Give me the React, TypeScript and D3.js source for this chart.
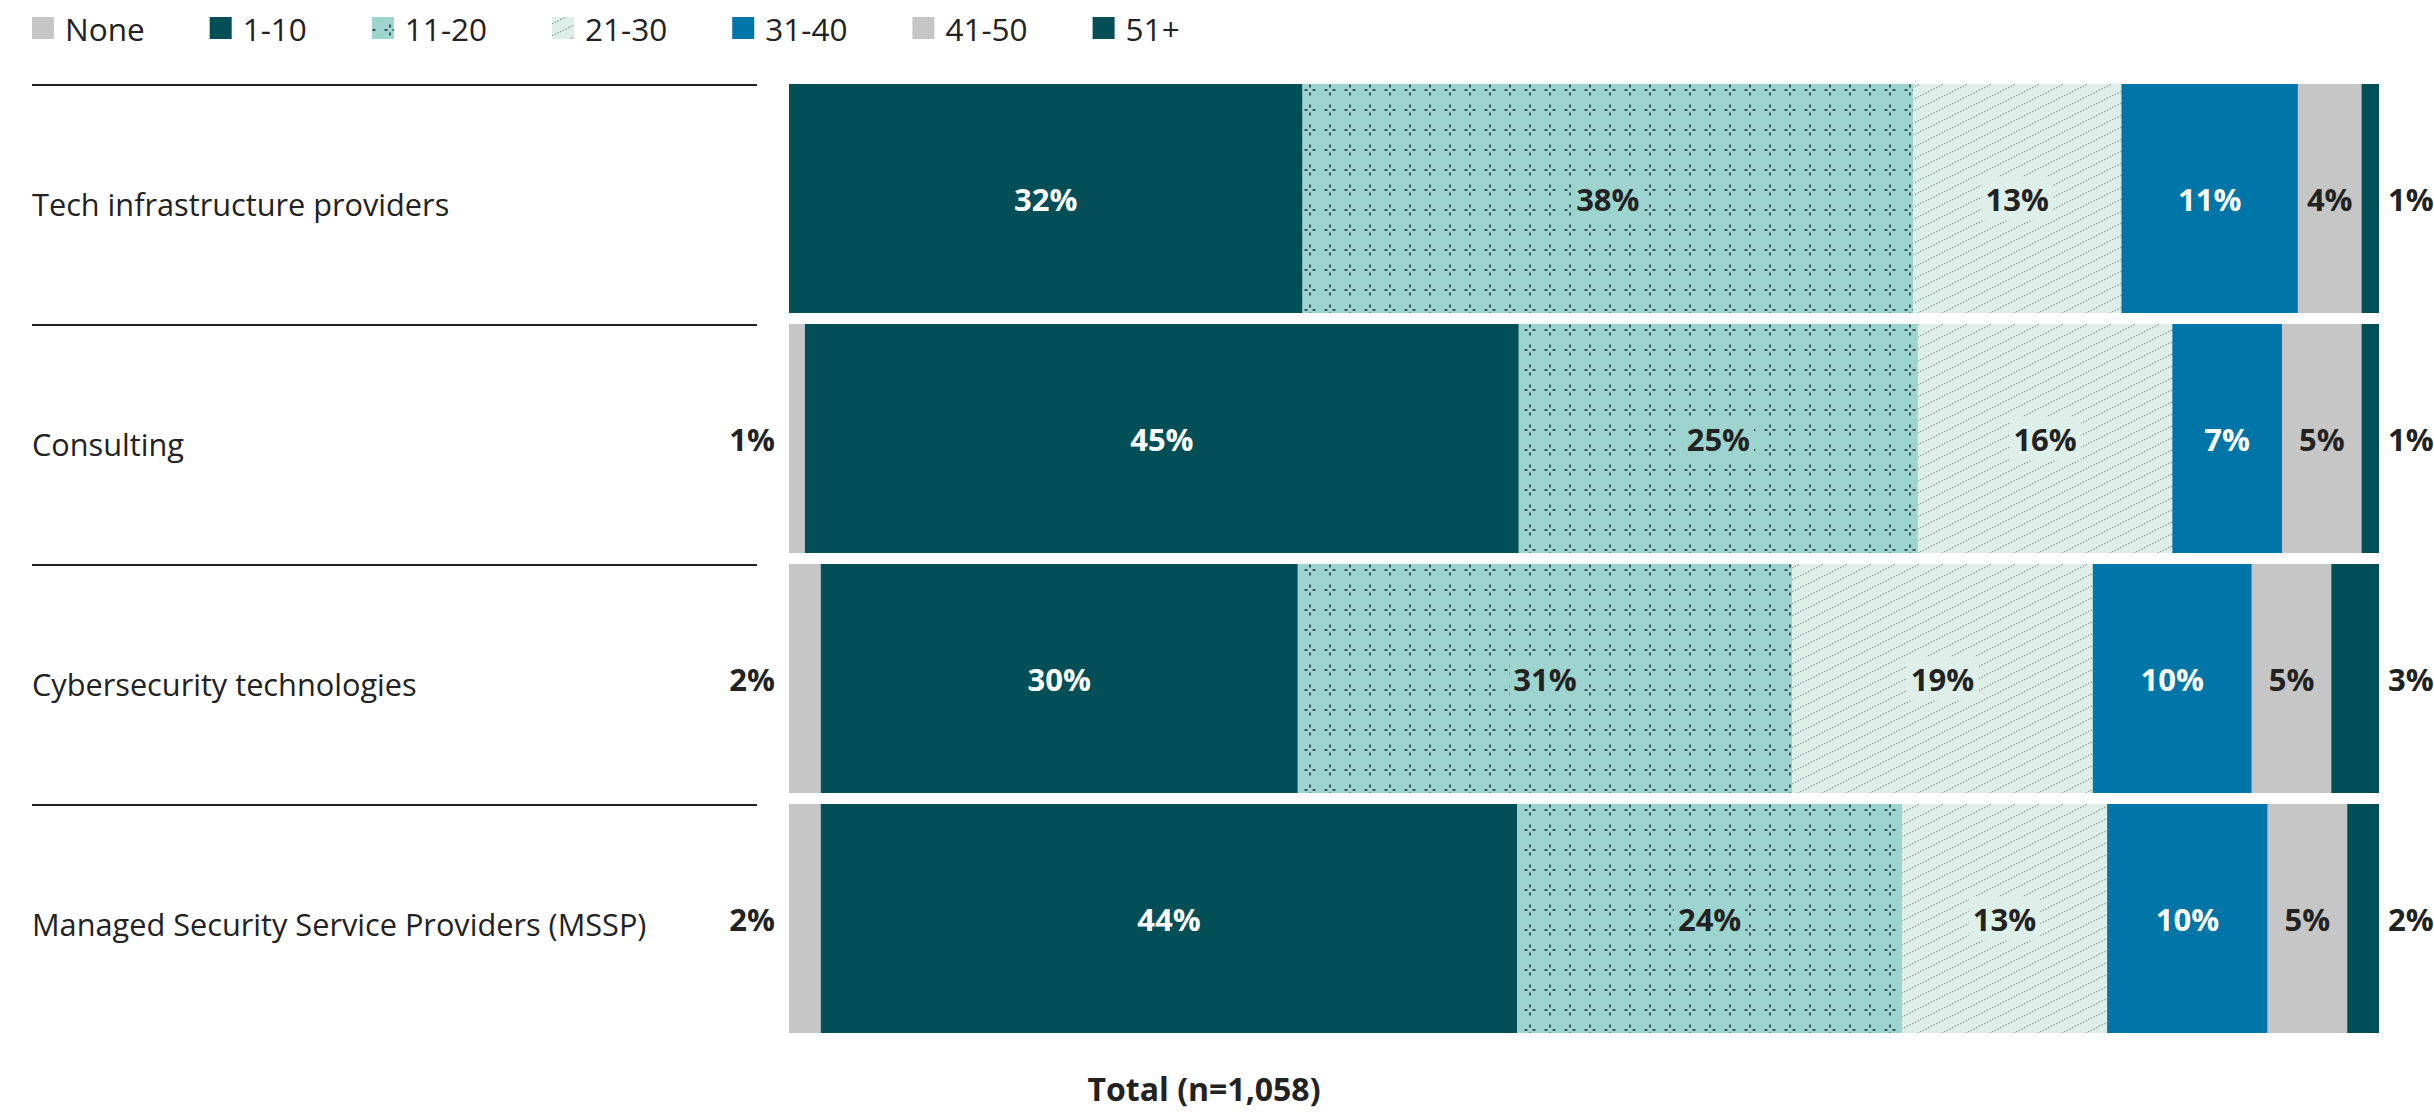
import React, { useEffect, useRef } from 'react';
import * as d3 from 'd3';

const categories = [
  'Tech infrastructure providers',
  'Consulting',
  'Cybersecurity technologies',
  'Managed Security Service Providers (MSSP)',
];
const seriesNames = ['None', '1-10', '11-20', '21-30', '31-40', '41-50', '51+'];
const noneValues = [0, 1.0, 2.0, 2.0];
const v1to10 = [32.3, 44.9, 30.0, 43.8];
const v11to20 = [38.4, 25.1, 31.1, 24.2];
const v21to30 = [13.1, 16.0, 18.9, 12.9];
const v31to40 = [11.1, 6.9, 10.0, 10.1];
const v41to50 = [4.0, 5.0, 5.0, 5.0];
const v51plus = [1.1, 1.1, 3.0, 2.0];
const totalLabel = 'Total (n=1,058)';

const W = 2434;
const H = 1112;
const FONT = "'Open Sans', sans-serif";
const TEXT = '#222222';

const fills: Record<string, string> = {
  None: '#c6c6c6',
  '1-10': '#024f57',
  '11-20': 'url(#patDots)',
  '21-30': 'url(#patLines)',
  '31-40': '#0076a8',
  '41-50': '#c6c6c6',
  '51+': '#024f57',
};
const baseColors: Record<string, string> = {
  None: '#c6c6c6',
  '1-10': '#024f57',
  '11-20': '#9dd4cf',
  '21-30': '#deefea',
  '31-40': '#0076a8',
  '41-50': '#c6c6c6',
  '51+': '#024f57',
};
const labelColors: Record<string, string> = {
  None: TEXT,
  '1-10': '#ffffff',
  '11-20': TEXT,
  '21-30': TEXT,
  '31-40': '#ffffff',
  '41-50': TEXT,
  '51+': TEXT,
};

export default function App() {
  const ref = useRef<SVGSVGElement | null>(null);

  useEffect(() => {
    const svg = d3.select(ref.current);
    svg.selectAll('*').remove();

    const columns = [noneValues, v1to10, v11to20, v21to30, v31to40, v41to50, v51plus];
    const table = categories.map((c, i) => {
      const row: any = { category: c };
      seriesNames.forEach((s, j) => (row[s] = columns[j][i]));
      return row;
    });
    const stacked = d3.stack().keys(seriesNames)(table as any);

    const x = d3.scaleLinear().domain([0, 100]).range([789, 2379]);
    const y = d3
      .scaleBand()
      .domain(categories)
      .range([84, 1033])
      .paddingInner(11 / 240)
      .paddingOuter(0);

    // patterns
    const defs = svg.append('defs');
    const pd = defs
      .append('pattern')
      .attr('id', 'patDots')
      .attr('patternUnits', 'userSpaceOnUse')
      .attr('width', 20)
      .attr('height', 20);
    pd.append('rect').attr('width', 20).attr('height', 20).attr('fill', '#9dd4cf');
    const crossSegs = [
      [4.5, 10, 7.5, 10],
      [12.5, 10, 15.5, 10],
      [10, 4.5, 10, 7.5],
      [10, 12.5, 10, 15.5],
    ];
    crossSegs.forEach(([a, b, c, d]) =>
      pd
        .append('line')
        .attr('x1', a)
        .attr('y1', b)
        .attr('x2', c)
        .attr('y2', d)
        .attr('stroke', '#16302f')
        .attr('stroke-width', 1.5)
    );
    const pl = defs
      .append('pattern')
      .attr('id', 'patLines')
      .attr('patternUnits', 'userSpaceOnUse')
      .attr('width', 24)
      .attr('height', 12);
    pl.append('rect').attr('width', 24).attr('height', 12).attr('fill', '#deefea');
    pl.append('line')
      .attr('x1', 0)
      .attr('y1', 12)
      .attr('x2', 24)
      .attr('y2', 0)
      .attr('stroke', '#6f7f7c')
      .attr('stroke-width', 1)
      .attr('stroke-dasharray', '1.5,1.5');

    // legend
    const lg = svg.append('g');
    let lx = 32;
    seriesNames.forEach((s) => {
      lg.append('rect')
        .attr('x', lx)
        .attr('y', 17)
        .attr('width', 22)
        .attr('height', 22)
        .attr('fill', fills[s]);
      const t = lg
        .append('text')
        .attr('x', lx + 33)
        .attr('y', 41)
        .attr('font-family', FONT)
        .attr('font-size', 31.5)
        .attr('fill', TEXT)
        .text(s);
      const w = (t.node() as SVGTextElement).getComputedTextLength();
      lx = lx + 33 + w + 65;
    });

    // row separators and labels
    categories.forEach((c) => {
      const top = y(c) as number;
      svg
        .append('line')
        .attr('x1', 32)
        .attr('x2', 757)
        .attr('y1', top + 1)
        .attr('y2', top + 1)
        .attr('stroke', TEXT)
        .attr('stroke-width', 2);
      svg
        .append('text')
        .attr('x', 32)
        .attr('y', top + y.bandwidth() / 2 + 17)
        .attr('font-family', FONT)
        .attr('font-size', 30.7)
        .attr('fill', TEXT)
        .text(c);
    });

    // bars
    const bars = svg.append('g');
    stacked.forEach((series) => {
      const key = series.key;
      series.forEach((d: any) => {
        const cat = d.data.category;
        const x0 = x(d[0]);
        const x1 = x(d[1]);
        if (x1 - x0 <= 0) return;
        bars
          .append('rect')
          .attr('x', x0)
          .attr('y', y(cat) as number)
          .attr('width', x1 - x0)
          .attr('height', y.bandwidth())
          .attr('fill', fills[key]);
      });
    });

    // labels
    const labels = svg.append('g');
    stacked.forEach((series) => {
      const key = series.key;
      series.forEach((d: any) => {
        const v = d[1] - d[0];
        if (v <= 0) return;
        const cat = d.data.category;
        const cy = (y(cat) as number) + y.bandwidth() / 2;
        const txt = `${Math.round(v)}%`;
        let tx: number;
        let anchor = 'middle';
        let color = labelColors[key];
        if (key === 'None') {
          tx = x(0) - 14;
          anchor = 'end';
          color = TEXT;
        } else if (key === '51+') {
          tx = x(100) + 9;
          anchor = 'start';
          color = TEXT;
        } else {
          tx = (x(d[0]) + x(d[1])) / 2;
        }
        const g = labels.append('g');
        const t = g
          .append('text')
          .attr('x', tx)
          .attr('y', cy + 12)
          .attr('text-anchor', anchor)
          .attr('font-family', FONT)
          .attr('font-weight', 700)
          .attr('font-size', 31)
          .attr('fill', color)
          .text(txt);
        if (key === '11-20' || key === '21-30') {
          const w = (t.node() as SVGTextElement).getComputedTextLength();
          g.insert('rect', 'text')
            .attr('x', tx - w / 2 - 4)
            .attr('y', cy - 22)
            .attr('width', w + 8)
            .attr('height', 44)
            .attr('fill', baseColors[key]);
        }
      });
    });

    // total label
    svg
      .append('text')
      .attr('x', 1204)
      .attr('y', 1101)
      .attr('text-anchor', 'middle')
      .attr('font-family', FONT)
      .attr('font-weight', 700)
      .attr('font-size', 32)
      .attr('fill', TEXT)
      .text(totalLabel);
  }, []);

  return (
    <svg
      ref={ref}
      width={W}
      height={H}
      style={{ position: 'absolute', left: 0, top: 0, display: 'block', background: '#ffffff' }}
    />
  );
}
